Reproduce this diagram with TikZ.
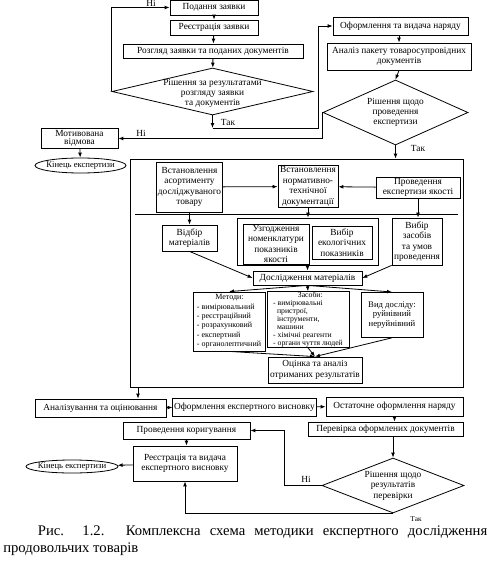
\documentclass[tikz,border=0pt]{standalone}
\usepackage{fontspec}
\setmainfont{Liberation Serif}
\usetikzlibrary{arrows.meta,positioning,shapes.geometric}

\begin{document}
\begin{tikzpicture}[x=0.75pt,y=-0.75pt,font=\fontsize{7}{7.8}\selectfont,
        >={Latex[length=1.3mm,width=1mm]},
        b/.style={draw,line width=0.6pt,align=center,inner sep=1pt},
        dia/.style={draw,line width=0.6pt,shape=diamond,inner sep=0pt},
        kin/.style={draw,line width=0.6pt,shape=ellipse,inner sep=0pt},
        lbl/.style={align=center,inner sep=0pt},
        ar/.style={->,line width=0.6pt},
        ln/.style={line width=0.6pt}]
  \useasboundingbox (0,0) rectangle (494,566);
  % upper part
  \node[b,minimum width=66pt,minimum height=11.25pt] (podannia) at (214,7.5) {Подання заявки};
  \node[b,minimum width=66pt,minimum height=11.25pt] (reiestr) at (214,27.5) {Реєстрація заявки};
  \node[b,minimum width=135pt,minimum height=10.5pt] (rozgliad) at (213,51) {Розгляд заявки та поданих документів};
  \node[dia,minimum width=150.75pt,minimum height=35.25pt,
        label={[lbl,yshift=-1.5pt]center:{Рішення за результатами\\розгляду заявки\\та документів}}] (rish1) at (212.5,91.5) {};
  \node[b,minimum width=57.75pt,minimum height=14.25pt,font=\fontsize{7}{6.5}\selectfont] (vidmova) at (79.5,138.5) {Мотивована\\відмова};
  \node[kin,minimum width=68.25pt,minimum height=11.25pt,
        label={[lbl,font=\fontsize{6.5}{7}\selectfont]center:Кінець експертизи}] (kinets1) at (80.5,165.5) {};
  \node[b,minimum width=101.25pt,minimum height=13.5pt] (oform) at (400.5,26) {Оформлення та видача наряду};
  \node[b,minimum width=108pt,minimum height=20.25pt] (analiz) at (399,56.5) {Аналіз пакету товаросупровідних\\документів};
  \node[dia,minimum width=108.75pt,minimum height=48.75pt,
        label={[lbl]center:{Рішення щодо\\проведення\\експертизи}}] (rish2) at (395.5,112.5) {};
  \draw[ar] (podannia) -- (reiestr);
  \draw[ar] (reiestr) -- (rozgliad);
  \draw[ar] (rozgliad) -- (rish1);
  \draw[ar] (rish1.west) |- (podannia.west);
  \node[lbl] (ni1) at (151,3) {Ні};
  \coordinate (t1) at (212.5,128);
  \coordinate (c1) at (318,128);
  \draw[ar] (rish1.south) -- (t1);
  \draw[ar] (t1) -- (c1) |- (oform.west);
  \node[lbl] (tak1) at (228,122) {Так};
  \draw[ar] (rish2.west) |- (vidmova.east);
  \node[lbl] (ni2) at (141,133) {Ні};
  \draw[ar] (vidmova) -- (kinets1);
  \draw[ar] (oform.south -| analiz.north) -- (analiz.north);
  \draw[ar] (analiz.south) -- (rish2.north);
  % inner frame
  \node[draw,line width=0.6pt,minimum width=249.75pt,minimum height=171pt] (frame) at (296.5,273) {};
  \draw[ar] (rish2.south) -- (rish2.south |- frame.north);
  \node[lbl] (tak2) at (418,148) {Так};
  \draw[ln] (135,214) -- (458,214);
  \node[b,minimum width=45.75pt,minimum height=37.5pt] (asort) at (189.5,187) {Встановлення\\асортименту\\досліджуваного\\товару};
  \node[b,minimum width=45pt,minimum height=27.75pt] (ntd) at (308,186.5) {Встановлення\\нормативно-\\технічної\\документації};
  \node[b,minimum width=63pt,minimum height=14.25pt] (provexp) at (418,187.5) {Проведення\\експертизи якості};
  \draw[ar] (asort) -- (ntd);
  \draw[ar] (provexp) -- (ntd);
  \node[b,minimum width=41.25pt,minimum height=19.5pt] (vidbir) at (189.5,238) {Відбір\\матеріалів};
  \node[draw,line width=0.6pt,minimum width=105.75pt,minimum height=35.25pt] (group) at (307.5,241.5) {};
  \node[b,minimum width=49.5pt,minimum height=27pt] (uzgod) at (276,244) {Узгодження\\номенклатури\\показників\\якості};
  \node[b,minimum width=45pt,minimum height=24.75pt] (ekol) at (342,242.5) {Вибір\\екологічних\\показників};
  \node[b,minimum width=37.5pt,minimum height=35.25pt] (vybir) at (417,241.5) {Вибір\\засобів\\та умов\\проведення};
  \draw[ar] (asort) -- (vidbir);
  \draw[ar] (ntd.south) -- (ntd.south |- group.north);
  \draw[ar] (provexp.south) -- (provexp.south |- vybir.north);
  \node[b,minimum width=81.75pt,minimum height=10.5pt] (doslid) at (307.5,278) {Дослідження матеріалів};
  \draw[ar] (vidbir.south) -- (doslid.west);
  \draw[ar] (group.south) -- (doslid.north);
  \draw[ar] (vybir.south west) -- (doslid.east);
  \node[b,minimum width=54pt,minimum height=44.25pt,align=left,inner sep=0.5pt,
        font=\fontsize{6}{7}\selectfont] (metody) at (229,321.5)
      {\hspace*{2.3em}Методи:\\- вимірювальний\\- реєстраційний\\- розрахунковий\\- експертний\\- органолептичний};
  \node[b,minimum width=61.5pt,minimum height=41.25pt,align=left,inner sep=0.5pt,
        font=\fontsize{5.8}{5.9}\selectfont] (zasob) at (308,319.5)
      {\hspace*{3.2em}Засоби:\\- вимірювальні\\\ \ пристрої,\\\ \ інструменти,\\\ \ машини\\- хімічні реагенти\\- органи чуття людей};
  \node[b,minimum width=46.5pt,minimum height=33.75pt,anchor=north,
        font=\fontsize{6.5}{7.3}\selectfont] (vyd) at (392,292) {Вид досліду:\\руйнівний\\неруйнівний};
  \draw[ar] (doslid.south) -- (metody.north);
  \draw[ar] (doslid.south) -- (zasob.north);
  \draw[ar] (doslid.south) -- (vyd.north);
  \node[b,minimum width=70.5pt,minimum height=19.5pt] (otsinka) at (315,370) {Оцінка та аналіз\\отриманих результатів};
  \draw[ar] (metody.south) -- (otsinka.north);
  \draw[ar] (zasob.south) -- (otsinka.north);
  \draw[ar] (vyd.south) -- (otsinka.north);
  % lower part
  \node[b,minimum width=98.25pt,minimum height=13.5pt] (analizuv) at (100.5,408) {Аналізування та оцінювання};
  \node[b,minimum width=107.25pt,minimum height=13.5pt] (vysnovok) at (244.5,407) {Оформлення експертного висновку};
  \node[b,minimum width=102.75pt,minimum height=14.25pt] (ostatoch) at (394.5,406.5) {Остаточне оформлення наряду};
  \node[b,minimum width=116.25pt,minimum height=10.5pt] (perevir) at (385.5,429) {Перевірка оформлених документів};
  \node[dia,minimum width=106.5pt,minimum height=41.25pt,
        label={[lbl]center:{Рішення щодо\\результатів\\перевірки}}] (rish3) at (393,485.5) {};
  \node[b,minimum width=95.25pt,minimum height=12.75pt] (koryg) at (186.5,430.5) {Проведення коригування};
  \node[b,minimum width=78pt,minimum height=26.25pt] (reiestr2) at (185,463.5) {Реєстрація та видача\\експертного висновку};
  \node[kin,minimum width=69pt,minimum height=9.75pt,
        label={[lbl,font=\fontsize{6.5}{7}\selectfont]center:Кінець експертизи}] (kinets2) at (72,466.5) {};
  \coordinate (f1) at (138,387);
  \draw[ar] (f1) -- (f1 |- analizuv.north);
  \draw[ar] (analizuv) -- (vysnovok);
  \draw[ar] (vysnovok) -- (ostatoch);
  \draw[ar] (ostatoch.south) -- (ostatoch.south |- perevir.north);
  \draw[ar] (rish3.north |- perevir.south) -- (rish3.north);
  \coordinate (c3) at (284,485.5);
  \draw[ar] (rish3.west) -- (c3) |- (koryg.east);
  \node[lbl] (ni3) at (306,479) {Ні};
  \draw[ar] (koryg.south) -- (koryg.south |- reiestr2.north);
  \draw[ar] (reiestr2) -- (kinets2);
  \draw[ar] (rish3.south) -| (reiestr2.south);
  \node[lbl,font=\fontsize{5.5}{6}\selectfont] (tak3) at (416,519) {Так};
  % caption
  \node[anchor=north west,inner sep=0pt,text width=363pt,align=justify,
        font=\fontsize{11}{12.75}\selectfont] (capt) at (3,526)
      {\hspace*{26pt}Рис.\ \ 1.2. Комплексна схема методики експертного дослідження продовольчих товарів};
\end{tikzpicture}
\end{document}
